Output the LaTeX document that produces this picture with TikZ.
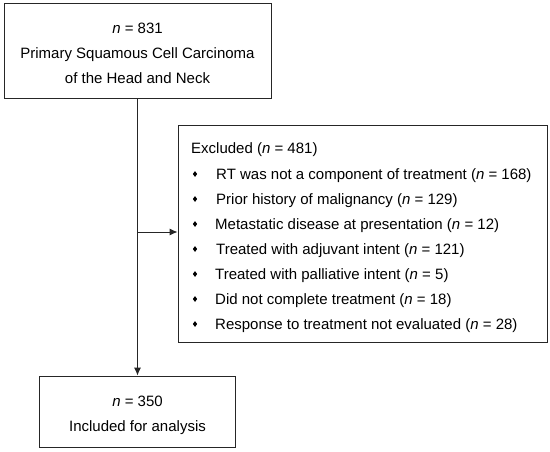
\documentclass[tikz,border=0pt]{standalone}
\usepackage{fontspec}
\setmainfont{Liberation Sans}
\usetikzlibrary{arrows.meta,shapes.geometric}
\begin{document}
\begin{tikzpicture}[x=1pt,y=-1pt,
  box/.style={draw=black!85,line width=0.9pt,inner sep=0pt},
  txt/.style={font=\fontsize{15}{25}\selectfont,inner sep=0pt},
  item/.style={txt,anchor=base west},
  bul/.style={diamond,fill=black,inner sep=0pt,minimum width=4.5pt,minimum height=6pt},
  arr/.style={draw=black!85,line width=0.9pt,-{Latex[length=8pt,width=7pt]}}]
\useasboundingbox (0,0) rectangle (550,451);
\node[box,minimum width=267pt,minimum height=95pt] (top) at (137.5,50.5) {};
\node[txt,align=center,anchor=base] (t1) at (137.5,33) {\textit{n} = 831};
\node[txt,anchor=base] (t2) at (137.5,58) {Primary Squamous Cell Carcinoma};
\node[txt,anchor=base] (t3) at (137.5,83) {of the Head and Neck};

\node[box,minimum width=369pt,minimum height=217pt] (excl) at (362.5,233.5) {};
\node[item] (e0) at (191,153) {Excluded (\textit{n} = 481)};
\node[bul] (b1) at (195,174) {}; \node[item] (e1) at (216,179) {RT was not a component of treatment (\textit{n} = 168)};
\node[bul] (b2) at (195,199) {}; \node[item] (e2) at (216,204) {Prior history of malignancy (\textit{n} = 129)};
\node[bul] (b3) at (195,224) {}; \node[item] (e3) at (215,229) {Metastatic disease at presentation (\textit{n} = 12)};
\node[bul] (b4) at (195,249) {}; \node[item] (e4) at (216,254) {Treated with adjuvant intent (\textit{n} = 121)};
\node[bul] (b5) at (195,274) {}; \node[item] (e5) at (215,279) {Treated with palliative intent (\textit{n} = 5)};
\node[bul] (b6) at (195,299) {}; \node[item] (e6) at (215,304) {Did not complete treatment (\textit{n} = 18)};
\node[bul] (b7) at (195,324) {}; \node[item] (e7) at (215,329) {Response to treatment not evaluated (\textit{n} = 28)};

\node[box,minimum width=196pt,minimum height=71pt] (bot) at (137.5,411.5) {};
\node[txt,anchor=base] (u1) at (137.5,406) {\textit{n} = 350};
\node[txt,anchor=base] (u2) at (137.5,431) {Included for analysis};

\coordinate (br) at (137.5,232);
\draw[arr] (top.south) -- (bot.north);
\draw[arr] (br) -- (br -| excl.west);
\end{tikzpicture}
\end{document}
